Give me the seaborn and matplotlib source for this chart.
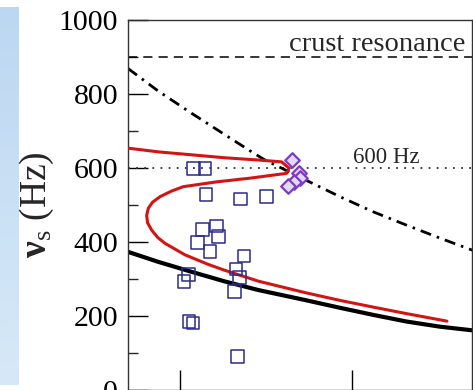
import numpy as np
import pandas as pd
import matplotlib
matplotlib.use("Agg")
import matplotlib.pyplot as plt
import seaborn as sns
from matplotlib.ticker import MultipleLocator, FixedLocator
from matplotlib.colors import LinearSegmentedColormap

# ---------------- data ----------------
# dash-dot curve
dd_x = [0.698, 0.874, 1.068, 1.262, 1.417, 1.494, 1.766, 1.930, 2.124, 2.318, 2.512, 2.703]
dd_y = [869, 808, 748, 690, 644, 622, 560, 523, 482, 446, 411, 378]

# thick black solid curve
bk_x = [0.698, 0.874, 1.068, 1.262, 1.455, 1.727, 1.930, 2.122, 2.316, 2.512, 2.703]
bk_y = [374, 347, 320, 294, 271, 244, 223, 204, 186, 172, 162]

# red C-shaped curve (upper branch -> tip -> lower branch)
red_x = [0.698, 0.874, 1.068, 1.262, 1.455, 1.591, 1.634,
         1.620, 1.407, 1.213, 1.019, 0.950, 0.884, 0.840, 0.816, 0.806,
         0.812, 0.835, 0.870, 0.913, 1.029, 1.165, 1.262, 1.455, 1.727,
         1.930, 2.122, 2.320, 2.552]
red_y = [654, 644, 636, 628, 622, 617, 600,
         586, 573, 563, 550, 538, 523, 508, 492, 472,
         452, 433, 413, 397, 366, 340, 324, 295, 264,
         243, 225, 207, 187]

# open squares
sq_x = [1.077, 1.145, 1.151, 1.353, 1.504, 1.130, 1.213, 1.223, 1.103, 1.174,
        1.372, 1.326, 1.345, 1.048, 1.023, 1.316, 1.052, 1.076, 1.333]
sq_y = [600, 600, 529, 517, 523, 435, 444, 415, 400, 376,
        363, 328, 305, 312, 293, 268, 187, 182, 91]

# diamonds
dm_x = [1.651, 1.692, 1.698, 1.663, 1.628]
dm_y = [622, 588, 573, 563, 552]

crust_level = 900
hz600_level = 600

y_ticks = [0, 200, 400, 600, 800, 1000]
x_ticks = [1, 2]

# ---------------- figure ----------------
sns.set_style("ticks")
plt.rcParams["font.family"] = ["Liberation Serif", "DejaVu Serif"]
plt.rcParams["mathtext.fontset"] = "custom"
plt.rcParams["mathtext.rm"] = "Liberation Serif"
plt.rcParams["mathtext.it"] = "Liberation Serif:italic"
plt.rcParams["mathtext.bf"] = "Liberation Serif:bold"

W, H = 473, 390
fig = plt.figure(figsize=(W / 100, H / 100), dpi=100)

# light-blue strip on the left
bg = fig.add_axes([0, 5 / H, 19 / W, 378 / H])
grad = np.linspace(0, 1, 256).reshape(-1, 1)
cmap = LinearSegmentedColormap.from_list("bl", ["#bcd7f1", "#d7e9f8"])
bg.imshow(grad, aspect="auto", cmap=cmap, origin="upper")
bg.set_axis_off()

ax = fig.add_axes([128 / W, (H - 390.4) / H, 344 / W, 370.4 / H])
ax.set_xlim(0.6977, 2.6977)
ax.set_ylim(0, 1000)

# reference lines
ax.axhline(crust_level, color="black", lw=1.1, dashes=(6, 4), zorder=1)
ax.axhline(hz600_level, color="#333333", lw=1.3, dashes=(1, 3.5), zorder=1)

df_dd = pd.DataFrame({"x": dd_x, "y": dd_y})
sns.lineplot(data=df_dd, x="x", y="y", ax=ax, sort=False, estimator=None,
             color="black", lw=2.0, zorder=2)
ax.lines[-1].set_dashes((4, 2.2, 0.9, 2.2))

df_bk = pd.DataFrame({"x": bk_x, "y": bk_y})
sns.lineplot(data=df_bk, x="x", y="y", ax=ax, sort=False, estimator=None,
             color="black", lw=3.0, zorder=2)
ax.lines[-1].set_solid_joinstyle("round")

df_red = pd.DataFrame({"x": red_x, "y": red_y})
sns.lineplot(data=df_red, x="x", y="y", ax=ax, sort=False, estimator=None,
             color="#d21414", lw=2.2, zorder=3)
ax.lines[-1].set_solid_joinstyle("round")

df_sq = pd.DataFrame({"x": sq_x, "y": sq_y})
sns.scatterplot(data=df_sq, x="x", y="y", ax=ax, marker="s", s=85,
                facecolor="none", edgecolor="#2b2b8c", linewidth=1.1, zorder=4)

df_dm = pd.DataFrame({"x": dm_x, "y": dm_y})
sns.scatterplot(data=df_dm, x="x", y="y", ax=ax, marker="D", s=55,
                facecolor="#e4d9f5", edgecolor="#7a3cc4", linewidth=1.6, zorder=5)

# texts
ax.text(2.657, 917, "crust resonance", ha="right", va="baseline", fontsize=20.5)
ax.text(2.006, 613, "600 Hz", ha="left", va="baseline", fontsize=16.5)

# axes styling
ax.yaxis.set_major_locator(FixedLocator(y_ticks))
ax.yaxis.set_minor_locator(MultipleLocator(100))
ax.xaxis.set_major_locator(FixedLocator(x_ticks))
ax.tick_params(which="major", direction="in", length=14.4, width=1.0,
               labelsize=21.5, pad=7.2, left=True, bottom=True,
               top=False, right=False, labelbottom=False, colors="black")
ax.tick_params(which="minor", direction="in", length=7.2, width=1.0,
               left=True, bottom=False, top=False, right=False)
for sp in ax.spines.values():
    sp.set_visible(True)
    sp.set_linewidth(1.0)
    sp.set_color("#333333")

ax.set_xlabel("")
ax.set_ylabel(r"$\mathbf{\nu}_{\mathrm{s}}$ (Hz)", fontsize=27)
ax.yaxis.set_label_coords((56 - 128) / 344, (390.4 - 205) / 370.4)

fig.savefig("out.png", dpi=100)
